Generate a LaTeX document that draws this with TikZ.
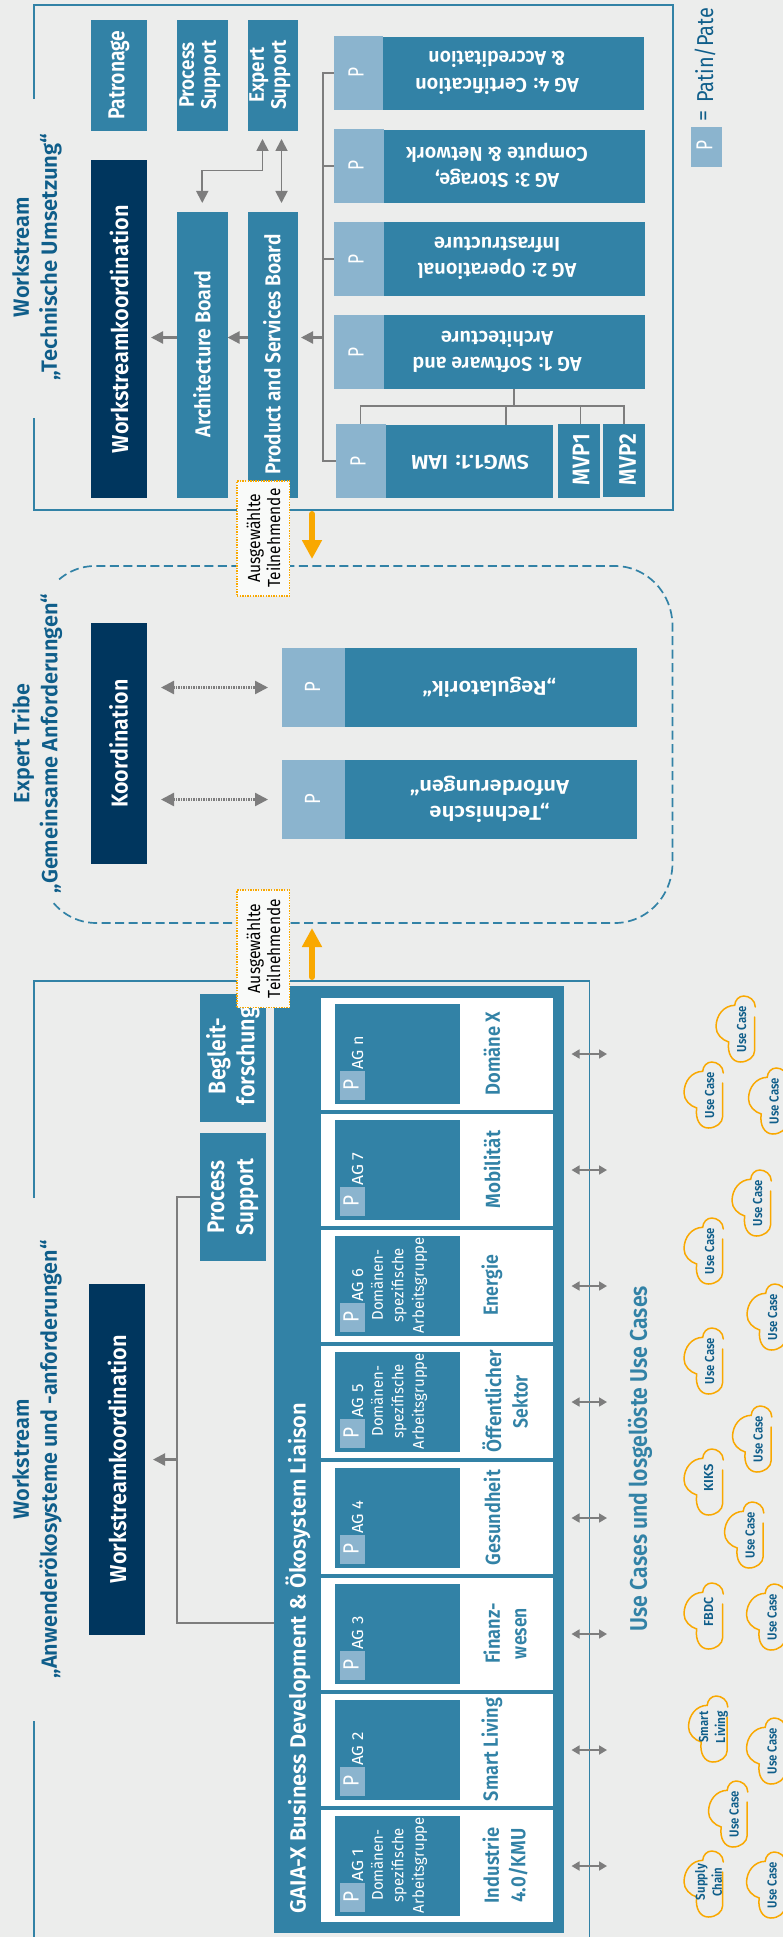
\documentclass[tikz,border=0pt]{standalone}
\usepackage{graphicx}
\usepackage{fontspec}
\setmainfont{Fira Sans}[BoldFont={Fira Sans SemiBold}]
\usetikzlibrary{arrows.meta}
\definecolor{bgc}{RGB}{236,237,236}
\definecolor{teal1}{RGB}{50,130,166}
\definecolor{navy1}{RGB}{0,54,94}
\definecolor{light1}{RGB}{139,180,206}
\definecolor{orange1}{RGB}{249,168,0}
\definecolor{grey1}{RGB}{125,125,125}
\definecolor{title1}{RGB}{15,94,138}
\newlength\fitlen
\newcommand\fitt[2]{\settowidth\fitlen{#2}\pgfmathsetmacro\fitf{#1/\fitlen}\scalebox{\fitf}[1]{#2}}
\tikzset{
  txup/.style={rotate=90,inner sep=0pt,outer sep=0pt,align=center},
  txdn/.style={rotate=180,inner sep=0pt,outer sep=0pt,align=center},
  bf/.style 2 args={font=\fontsize{#1}{#2}\selectfont\bfseries},
  rg/.style 2 args={font=\fontsize{#1}{#2}\selectfont},
  boxt/.style={fill=teal1,draw=none},
  boxn/.style={fill=navy1,draw=none},
  boxl/.style={fill=light1,draw=none},
  boxw/.style={fill=white,draw=none},
  frame/.style={draw=teal1,line width=1.8pt},
  glin/.style={draw=grey1,line width=1.6pt},
  gthin/.style={draw=grey1,line width=1.3pt},
  garr/.style={draw=grey1,line width=2.2pt,-{Triangle[length=12pt,width=12pt]}},
  gdbl/.style={draw=grey1,line width=1.8pt,{Triangle[length=12pt,width=12pt]}-{Triangle[length=12pt,width=12pt]}},
  gdot/.style={draw=grey1,line width=2.4pt,dash pattern=on 1.4pt off 1.1pt,{Triangle[length=13pt,width=13pt]}-{Triangle[length=13pt,width=13pt]}},
  gsmall/.style={draw=grey1,line width=1.6pt,{Triangle[length=8pt,width=9pt]}-{Triangle[length=8pt,width=9pt]}},
  oarr/.style={draw=orange1,line width=6pt,line cap=round,-{Triangle[length=19pt,width=19pt]}},
  tribe/.style={draw=teal1,line width=1.7pt,dash pattern=on 9pt off 4.5pt},
  cloudline/.style={draw=orange1,line width=1.5pt,line cap=round},
  selbox/.style={fill=white!70!bgc,draw=orange1,line width=1.1pt,dash pattern=on 1.4pt off 1.2pt},
}
\newcommand\bx[6]{%
  \pgfmathsetmacro\bw{(#4)-(#2)}\pgfmathsetmacro\bh{(#5)-(#3)}%
  \pgfmathsetmacro\bcx{((#2)+(#4))/2}\pgfmathsetmacro\bcy{((#3)+(#5))/2}%
  \node[#6,minimum width=\bw pt,minimum height=\bh pt,inner sep=0pt,outer sep=0pt] (#1) at (\bcx,\bcy) {};}
\newcommand\tx[5]{\node[#4] (#1) at (#2,#3) {#5};}
% column of the domain block: index, top, AG label, x of the domain label, domain label
\newcommand\col[5]{%
  \bx{w#1}{320.5}{#2}{552.5}{#2+112}{boxw}
  \bx{i#1}{334.5}{#2+6}{459.5}{#2+106}{boxt}
  \bx{p#1}{339.5}{#2+73}{364.5}{#2+102}{boxl}
  \pgfmathsetmacro\ty{#2+87}\tx{pt#1}{351}{\ty}{txup,rg={22}{22},text=white}{\fitt{11}{P}}
  \pgfmathsetmacro\ty{#2+55}\tx{ag#1}{357.5}{\ty}{txup,rg={16}{16},text=white}{\fitt{33}{#3}}
  \pgfmathsetmacro\ty{#2+55.5}\tx{dom#1}{#4}{\ty}{txup,bf={20.5}{26.5},text=teal1}{#5}
  \pgfmathsetmacro\ty{#2+56}\coordinate (dc#1) at (607,\ty);
  \draw[gsmall,shorten <=8pt] (gaia.east |- dc#1) -- (dc#1);}
\newcommand\dsc[2]{%
  \pgfmathsetmacro\ty{#2+55}\tx{ds#1}{399}{\ty}{txup,rg={15.5}{20.5},text=white}{\fitt{71}{Domänen-}\\\fitt{74}{spezifische}\\\fitt{96}{Arbeitsgruppe}}}
% cloud: name, x, y, text x, text y, content
\newcommand\cld[6]{%
  \begin{scope}[shift={(#2,#3)}]
    \draw[cloudline] (39.3,11) .. controls (39.3,4) and (33,0) .. (27.7,0)
      .. controls (23,0) and (19,4) .. (18.7,9.3)
      .. controls (8,9.5) and (0,19) .. (0,31)
      .. controls (0,38) and (6,44) .. (12.7,46)
      .. controls (11,57) and (16,66) .. (24.3,66)
      .. controls (32,66) and (38.7,61) .. (38.7,54.3) -- (38.7,21);
    \tx{#1}{#4}{#5}{txup,bf={13}{17},text=title1}{#6}
  \end{scope}}
\newcommand\uc[3]{\cld{#1}{#2}{#3}{25.5}{33}{\fitt{46}{Use Case}}}
\begin{document}
\begin{tikzpicture}[x=1pt,y=-1pt]
\useasboundingbox (0,0) rectangle (783,1937);
\clip (0,0) rectangle (783,1937);
\fill[bgc] (0,0) rectangle (783,1937);

% ---------- upper frame
\draw[frame] (34,99) -- (34,5) -- (673,5) -- (673,510) -- (34,510) -- (34,418);
\tx{t1}{37}{257}{txup,bf={22}{28},text=title1}{\fitt{120}{Workstream}\\\fitt{247}{„Technische Umsetzung“}}

\bx{pat}{91}{20}{147}{131}{boxt}
\tx{patt}{119}{75}{txup,bf={23}{23},text=white}{\fitt{89}{Patronage}}
\bx{prs}{177}{20}{227.5}{131}{boxt}
\tx{prst}{200}{75}{txup,bf={21}{22},text=white}{\fitt{66}{Process}\\\fitt{70}{Support}}
\bx{eb}{247.5}{20}{297.5}{131}{boxt}
\tx{ebt}{270}{75}{txup,bf={21}{22},text=white}{\fitt{56}{Expert}\\\fitt{70}{Support}}
\bx{wk}{91}{160}{147}{498}{boxn}
\tx{wkt}{119}{329}{txup,bf={23}{23},text=white}{\fitt{248}{Workstreamkoordination}}
\bx{ab}{177}{212}{227.5}{498}{boxt}
\tx{abt}{202}{354}{txup,bf={21.5}{21.5},text=white}{\fitt{167}{Architecture Board}}
\bx{pb}{247.5}{212}{297.5}{498}{boxt}
\tx{pbt}{272}{354.5}{txup,bf={21.5}{21.5},text=white}{\fitt{240}{Product and Services Board}}

% working groups
\bx{ag4p}{333.5}{36}{383}{110}{boxl}
\bx{ag4}{382.5}{37}{644}{110}{boxt}
\tx{ag4pt}{356}{73}{txup,rg={22}{22},text=white}{\fitt{10}{P}}
\tx{ag4t}{497}{73}{txdn,bf={20}{26.3},text=white}{\fitt{163.5}{AG 4: Certification}\\\fitt{137}{\& Accreditation}}
\bx{ag3p}{333.5}{129}{383.5}{203}{boxl}
\bx{ag3}{383.5}{130}{645}{203}{boxt}
\tx{ag3pt}{356}{166}{txup,rg={22}{22},text=white}{\fitt{10}{P}}
\tx{ag3t}{497}{165.5}{txdn,bf={20}{26.3},text=white}{\fitt{124}{AG 3: Storage,}\\\fitt{181.5}{Compute \& Network}}
\bx{ag2p}{333.5}{222}{383.5}{296}{boxl}
\bx{ag2}{383.5}{222}{645}{296}{boxt}
\tx{ag2pt}{356}{259}{txup,rg={22}{22},text=white}{\fitt{10}{P}}
\tx{ag2t}{497}{258.5}{txdn,bf={20}{26.3},text=white}{\fitt{158.5}{AG 2: Operational}\\\fitt{126}{Infrastructure}}
\bx{ag1p}{333.5}{315}{383.5}{389}{boxl}
\bx{ag1}{383.5}{315}{645}{389}{boxt}
\tx{ag1pt}{356}{352}{txup,rg={22}{22},text=white}{\fitt{10}{P}}
\tx{ag1t}{497}{352}{txdn,bf={20}{26.3},text=white}{\fitt{169}{AG 1: Software and}\\\fitt{112}{Architecture}}
\bx{swgp}{335.5}{424}{385.5}{498}{boxl}
\bx{swg}{385.5}{425}{552.5}{498}{boxt}
\tx{swgpt}{358}{461}{txup,rg={22}{22},text=white}{\fitt{10}{P}}
\tx{swgt}{470}{462}{txdn,bf={20}{21},text=white}{\fitt{118}{SWG1.1: IAM}}
\bx{mvp1}{557.5}{424}{600}{498}{boxt}
\tx{mvp1t}{581}{459.5}{txup,bf={24}{24},text=white}{\fitt{51}{MVP1}}
\bx{mvp2}{603}{424}{645}{497}{boxt}
\tx{mvp2t}{627.5}{459.5}{txup,bf={24}{24},text=white}{\fitt{51}{MVP2}}

% legend
\bx{lgp}{691}{127}{722}{167}{boxl}
\tx{lgpt}{704.5}{146}{txup,rg={23}{23},text=white}{\fitt{10}{P}}
\tx{lgeq}{705.5}{116}{txup,rg={22}{22},text=title1}{=}
\tx{lgt}{705}{55.5}{txup,rg={23}{23},text=title1}{\fitt{95}{Patin/Pate}}

% upper connectors
\coordinate (busx) at (323,0);
\coordinate (busj) at (323,337.5);
\draw[glin] (ag4p.west) -- (ag4p.west -| busx) -- (swgp.west -| busx) -- (swgp.west);
\draw[glin] (ag3p.west) -- (ag3p.west -| busx);
\draw[glin] (ag2p.west) -- (ag2p.west -| busx);
\draw[garr,shorten >=3.5pt] (busj) -- (pb.east |- busj);
\draw[garr] (pb.west |- busj) -- (ab.east |- busj);
\draw[garr,shorten >=4pt] (ab.west |- busj) -- (wk.east |- busj);
\coordinate (e1) at (281.5,170.5);
\coordinate (e2) at (262.5,170.5);
\draw[gdbl,shorten <=8pt,shorten >=9pt] (eb.south -| e1) -- (pb.north -| e1);
\draw[gdbl,shorten <=8pt,shorten >=9pt] (eb.south -| e2) -- (e2) -| (ab.north);
\coordinate (t0) at (514,406);
\coordinate (t1) at (506,406);
\coordinate (t2) at (580.5,406);
\draw[gthin] (ag1.south -| t0) -- (t0);
\draw[gthin] (swgp.north) -- (swgp.north |- t0) -- (mvp2.north |- t0) -- (mvp2.north);
\draw[gthin] (t1) -- (t1 |- swg.north);
\draw[gthin] (t2) -- (t2 |- mvp1.north);

% ---------- expert tribe
\draw[tribe] plot[domain=231:270,samples=12] ({95+57*cos(\x)},{626+60*sin(\x)})
  -- plot[domain=270:360,samples=24] ({615+57.5*cos(\x)},{626+60*sin(\x)})
  -- plot[domain=0:90,samples=24] ({615+57.5*cos(\x)},{863+60*sin(\x)})
  -- plot[domain=90:138,samples=12] ({96+57*cos(\x)},{863+60*sin(\x)});
\tx{t2}{37}{743.5}{txup,bf={22}{28},text=title1}{\fitt{119}{Expert Tribe}\\\fitt{299}{„Gemeinsame Anforderungen“}}
\bx{kd}{91}{623}{147}{864}{boxn}
\tx{kdt}{118.5}{743.5}{txup,bf={23}{23},text=white}{\fitt{128}{Koordination}}
\bx{rp}{281.5}{648}{344.5}{727}{boxl}
\bx{rg}{344.5}{648}{637}{727}{boxt}
\tx{rpt}{312.5}{687.5}{txup,rg={22}{22},text=white}{\fitt{10.7}{P}}
\tx{rgt}{489.3}{687.5}{txdn,bf={20}{26.3},text=white}{\fitt{133.5}{„Regulatorik“}}
\bx{tp}{281.5}{760}{344.5}{839}{boxl}
\bx{ta}{344.5}{760}{637}{839}{boxt}
\tx{tpt}{312.5}{799.5}{txup,rg={22}{22},text=white}{\fitt{10.7}{P}}
\tx{tat}{489.5}{799.5}{txdn,bf={20}{26.3},text=white}{\fitt{120}{„Technische}\\\fitt{159}{Anforderungen“}}
\draw[gdot,shorten <=14pt,shorten >=13.5pt] (kd.east |- rp.west) -- (rp.west);
\draw[gdot,shorten <=14pt,shorten >=13.5pt] (kd.east |- tp.west) -- (tp.west);

% ---------- lower frame
\draw[frame] (34,1198) -- (34,981) -- (589.5,981) -- (589.5,1945);
\draw[frame] (34,1721) -- (34,1945);
\tx{t3}{37}{1459.5}{txup,bf={22}{28},text=title1}{\fitt{120}{Workstream}\\\fitt{438}{„Anwenderökosysteme und -anforderungen“}}
\bx{wk2}{89}{1284}{145}{1635}{boxn}
\tx{wk2t}{117}{1459}{txup,bf={23}{23},text=white}{\fitt{248}{Workstreamkoordination}}
\bx{bg}{199.5}{994}{265.5}{1122}{boxt}
\tx{bgt}{233}{1056}{txup,bf={24}{29},text=white}{\fitt{76}{Begleit-}\\\fitt{98}{forschung}}
\bx{ps}{199.5}{1133}{265.5}{1261}{boxt}
\tx{pst}{233}{1197}{txup,bf={24}{29},text=white}{\fitt{72.7}{Process}\\\fitt{76.7}{Support}}
\bx{gaia}{273.5}{986}{563.5}{1933}{boxt}
\tx{gaiat}{298}{1658}{txup,bf={22}{22},text=white}{\fitt{510}{GAIA-X Business Development \& Ökosystem Liaison}}
\col{1}{998}{AG n}{492}{\fitt{84}{Domäne X}}
\col{2}{1114}{AG 7}{492}{\fitt{77.7}{Mobilität}}
\col{3}{1230}{AG 6}{492}{\fitt{60.7}{Energie}}
\dsc{3}{1230}
\col{4}{1346}{AG 5}{505}{\fitt{102.7}{Öffentlicher}\\\fitt{53}{Sektor}}
\dsc{4}{1346}
\col{5}{1462}{AG 4}{492}{\fitt{95}{Gesundheit}}
\col{6}{1578}{AG 3}{505}{\fitt{60}{Finanz-}\\\fitt{51}{wesen}}
\col{7}{1694}{AG 2}{492}{\fitt{103}{Smart Living}}
\col{8}{1810}{AG 1}{505}{\fitt{76}{Industrie}\\\fitt{74}{4.0/KMU}}
\dsc{8}{1810}
\coordinate (lj) at (177,1622.7);
\draw[glin] (ps.west) -| (lj) -- (gaia.west |- lj);
\coordinate (lk) at (177,1459.5);
\draw[garr,shorten >=8pt] (lk) -- (wk2.east);
\tx{uct}{640}{1458.5}{txup,bf={24}{24},text=teal1}{\fitt{345}{Use Cases und losgelöste Use Cases}}

% clouds
\uc{c1}{716}{996}
\uc{c2}{684}{1062}
\uc{c3}{748.5}{1068}
\uc{c4}{732}{1170}
\uc{c5}{684}{1218}
\uc{c6}{747}{1284}
\uc{c7}{684}{1328}
\uc{c8}{732.5}{1406}
\cld{c9}{684}{1449}{24.5}{29}{\fitt{27}{KIKS}}
\uc{c10}{724.5}{1502}
\cld{c11}{684}{1583}{24.5}{29}{\fitt{29}{FBDC}}
\uc{c12}{746.5}{1584}
\cld{c13}{688.5}{1696}{25}{31}{\fitt{31}{Smart}\\\fitt{32}{Living}}
\uc{c14}{746.5}{1718}
\uc{c15}{708.5}{1781}
\cld{c16}{684}{1851}{24.5}{31}{\fitt{36}{Supply}\\\fitt{29}{Chain}}
\uc{c17}{746.5}{1852}

% ---------- selected participants
\bx{sel1}{237}{481}{289.5}{596}{selbox}
\tx{sel1t}{263.5}{538}{txup,rg={17.5}{20},text=black}{\fitt{89}{Ausgewählte}\\\fitt{99}{Teilnehmende}}
\bx{sel2}{237}{890}{289.5}{1007.5}{selbox}
\tx{sel2t}{263.5}{948.5}{txup,rg={17.5}{20},text=black}{\fitt{89}{Ausgewählte}\\\fitt{99}{Teilnehmende}}
\coordinate (oa) at (312,514);
\coordinate (ob) at (312,559);
\draw[oarr] (oa) -- (ob);
\coordinate (oc) at (312,977);
\coordinate (od) at (312,928);
\draw[oarr] (oc) -- (od);
\end{tikzpicture}
\end{document}
